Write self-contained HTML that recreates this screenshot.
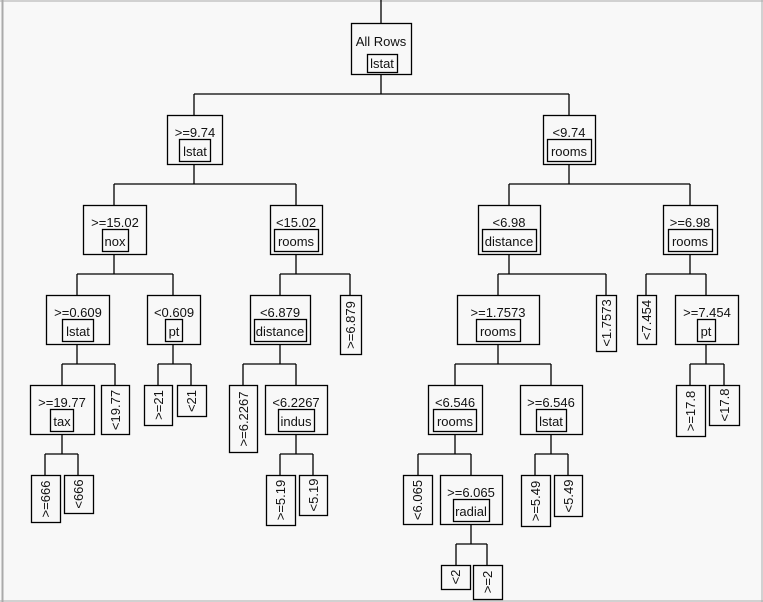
<!DOCTYPE html>
<html><head><meta charset="utf-8"><style>
html,body{margin:0;padding:0;background:#f8f8f8}
svg{display:block}
text{font-family:"Liberation Sans",sans-serif;font-size:13px;fill:#111}
rect{fill:none;stroke:#000;stroke-width:1.3}
line{stroke:#000;stroke-width:1.3}
</style></head><body>
<svg width="763" height="602" viewBox="0 0 763 602">
<rect x="0" y="0" width="763" height="602" style="fill:#f8f8f8;stroke:none"/>
<line x1="2.5" y1="0" x2="2.5" y2="602" style="stroke:#aaa;stroke-width:2"/>
<line x1="0" y1="1" x2="763" y2="1" style="stroke:#aaa;stroke-width:1"/>
<line x1="762" y1="0" x2="762" y2="602" style="stroke:#aaa;stroke-width:1"/>
<line x1="0" y1="601" x2="763" y2="601" style="stroke:#aaa;stroke-width:1"/>
<g id="lines">
<line x1="381" y1="0" x2="381" y2="23"/>
<line x1="381" y1="74" x2="381" y2="94"/><line x1="194" y1="94" x2="569" y2="94"/>
<line x1="194" y1="94" x2="194" y2="115"/><line x1="569" y1="94" x2="569" y2="115"/>
<!-- A -->
<line x1="194" y1="164" x2="194" y2="184"/><line x1="114" y1="184" x2="296" y2="184"/>
<line x1="114" y1="184" x2="114" y2="205"/><line x1="296" y1="184" x2="296" y2="205"/>
<!-- B -->
<line x1="569" y1="164" x2="569" y2="184"/><line x1="509" y1="184" x2="690" y2="184"/>
<line x1="509" y1="184" x2="509" y2="205"/><line x1="690" y1="184" x2="690" y2="205"/>
<!-- nox -->
<line x1="114" y1="254" x2="114" y2="274"/><line x1="77" y1="274" x2="173" y2="274"/>
<line x1="77" y1="274" x2="77" y2="295"/><line x1="173" y1="274" x2="173" y2="295"/>
<!-- rooms <15.02 -->
<line x1="296" y1="254" x2="296" y2="274"/><line x1="280" y1="274" x2="350" y2="274"/>
<line x1="280" y1="274" x2="280" y2="295"/><line x1="350" y1="274" x2="350" y2="295"/>
<!-- distance <6.98 -->
<line x1="509" y1="254" x2="509" y2="274"/><line x1="498" y1="274" x2="606" y2="274"/>
<line x1="498" y1="274" x2="498" y2="295"/><line x1="606" y1="274" x2="606" y2="295"/>
<!-- rooms >=6.98 -->
<line x1="690" y1="254" x2="690" y2="274"/><line x1="646" y1="274" x2="706" y2="274"/>
<line x1="646" y1="274" x2="646" y2="295"/><line x1="706" y1="274" x2="706" y2="295"/>
<!-- lstat >=0.609 -->
<line x1="77" y1="344" x2="77" y2="364"/><line x1="62" y1="364" x2="115" y2="364"/>
<line x1="62" y1="364" x2="62" y2="385"/><line x1="115" y1="364" x2="115" y2="385"/>
<!-- pt -->
<line x1="173" y1="344" x2="173" y2="364"/><line x1="158" y1="364" x2="191" y2="364"/>
<line x1="158" y1="364" x2="158" y2="385"/><line x1="191" y1="364" x2="191" y2="385"/>
<!-- distance <6.879 -->
<line x1="280" y1="344" x2="280" y2="364"/><line x1="243" y1="364" x2="296" y2="364"/>
<line x1="243" y1="364" x2="243" y2="385"/><line x1="296" y1="364" x2="296" y2="385"/>
<!-- rooms >=1.7573 -->
<line x1="498" y1="344" x2="498" y2="364"/><line x1="455" y1="364" x2="551" y2="364"/>
<line x1="455" y1="364" x2="455" y2="385"/><line x1="551" y1="364" x2="551" y2="385"/>
<!-- pt >=7.454 -->
<line x1="706" y1="344" x2="706" y2="364"/><line x1="690" y1="364" x2="724" y2="364"/>
<line x1="690" y1="364" x2="690" y2="385"/><line x1="724" y1="364" x2="724" y2="385"/>
<!-- tax -->
<line x1="62" y1="434" x2="62" y2="454"/><line x1="45" y1="454" x2="78" y2="454"/>
<line x1="45" y1="454" x2="45" y2="475"/><line x1="78" y1="454" x2="78" y2="475"/>
<!-- indus -->
<line x1="296" y1="434" x2="296" y2="454"/><line x1="280" y1="454" x2="313" y2="454"/>
<line x1="280" y1="454" x2="280" y2="475"/><line x1="313" y1="454" x2="313" y2="475"/>
<!-- rooms <6.546 -->
<line x1="455" y1="434" x2="455" y2="454"/><line x1="418" y1="454" x2="471" y2="454"/>
<line x1="418" y1="454" x2="418" y2="475"/><line x1="471" y1="454" x2="471" y2="475"/>
<!-- lstat >=6.546 -->
<line x1="551" y1="434" x2="551" y2="454"/><line x1="535" y1="454" x2="568" y2="454"/>
<line x1="535" y1="454" x2="535" y2="475"/><line x1="568" y1="454" x2="568" y2="475"/>
<!-- radial -->
<line x1="471" y1="524" x2="471" y2="544"/><line x1="456" y1="544" x2="487" y2="544"/>
<line x1="456" y1="544" x2="456" y2="565"/><line x1="487" y1="544" x2="487" y2="565"/>
</g>
<!-- Root -->
<rect x="351.5" y="23.5" width="60" height="51"/>
<text x="381" y="46" text-anchor="middle">All Rows</text>
<rect x="367.5" y="54.5" width="30" height="18"/>
<text x="382" y="68" text-anchor="middle">lstat</text>
<!-- decision nodes: x1,top,w, inner x,w -->
<g>
<rect x="167.5" y="115.5" width="55" height="49"/><text x="195" y="137" text-anchor="middle">&gt;=9.74</text>
<rect x="179.5" y="139.5" width="31" height="22"/><text x="195" y="156" text-anchor="middle">lstat</text>

<rect x="543.5" y="115.5" width="52" height="49"/><text x="569" y="137" text-anchor="middle">&lt;9.74</text>
<rect x="547.5" y="139.5" width="44" height="22"/><text x="569" y="156" text-anchor="middle">rooms</text>

<rect x="83.5" y="205.5" width="63" height="49"/><text x="115" y="227" text-anchor="middle">&gt;=15.02</text>
<rect x="102.5" y="229.5" width="26" height="22"/><text x="115" y="246" text-anchor="middle">nox</text>

<rect x="270.5" y="205.5" width="52" height="49"/><text x="296" y="227" text-anchor="middle">&lt;15.02</text>
<rect x="274.5" y="229.5" width="44" height="22"/><text x="296" y="246" text-anchor="middle">rooms</text>

<rect x="478.5" y="205.5" width="62" height="49"/><text x="509" y="227" text-anchor="middle">&lt;6.98</text>
<rect x="482.5" y="229.5" width="54" height="22"/><text x="509" y="246" text-anchor="middle">distance</text>

<rect x="663.5" y="205.5" width="54" height="49"/><text x="690" y="227" text-anchor="middle">&gt;=6.98</text>
<rect x="668.5" y="229.5" width="44" height="22"/><text x="690" y="246" text-anchor="middle">rooms</text>

<rect x="46.5" y="295.5" width="63" height="49"/><text x="78" y="317" text-anchor="middle">&gt;=0.609</text>
<rect x="62.5" y="319.5" width="31" height="22"/><text x="78" y="336" text-anchor="middle">lstat</text>

<rect x="147.5" y="295.5" width="53" height="49"/><text x="174" y="317" text-anchor="middle">&lt;0.609</text>
<rect x="165.5" y="319.5" width="17" height="22"/><text x="174" y="336" text-anchor="middle">pt</text>

<rect x="250.5" y="295.5" width="60" height="49"/><text x="280" y="317" text-anchor="middle">&lt;6.879</text>
<rect x="254.5" y="319.5" width="52" height="22"/><text x="280" y="336" text-anchor="middle">distance</text>

<rect x="457.5" y="295.5" width="82" height="49"/><text x="498" y="317" text-anchor="middle">&gt;=1.7573</text>
<rect x="476.5" y="319.5" width="44" height="22"/><text x="498" y="336" text-anchor="middle">rooms</text>

<rect x="675.5" y="295.5" width="63" height="49"/><text x="707" y="317" text-anchor="middle">&gt;=7.454</text>
<rect x="697.5" y="319.5" width="18" height="22"/><text x="706" y="336" text-anchor="middle">pt</text>

<rect x="30.5" y="385.5" width="64" height="49"/><text x="62" y="407" text-anchor="middle">&gt;=19.77</text>
<rect x="50.5" y="409.5" width="23" height="22"/><text x="62" y="426" text-anchor="middle">tax</text>

<rect x="265.5" y="385.5" width="62" height="49"/><text x="296" y="407" text-anchor="middle">&lt;6.2267</text>
<rect x="278.5" y="409.5" width="36" height="22"/><text x="296" y="426" text-anchor="middle">indus</text>

<rect x="428.5" y="385.5" width="54" height="49"/><text x="455" y="407" text-anchor="middle">&lt;6.546</text>
<rect x="433.5" y="409.5" width="43" height="22"/><text x="455" y="426" text-anchor="middle">rooms</text>

<rect x="520.5" y="385.5" width="62" height="49"/><text x="551" y="407" text-anchor="middle">&gt;=6.546</text>
<rect x="536.5" y="409.5" width="30" height="22"/><text x="551" y="426" text-anchor="middle">lstat</text>

<rect x="440.5" y="475.5" width="62" height="49"/><text x="471" y="497" text-anchor="middle">&gt;=6.065</text>
<rect x="453.5" y="499.5" width="36" height="22"/><text x="471" y="516" text-anchor="middle">radial</text>
</g>
<!-- leaves: rect + rotated text -->
<g>
<rect x="340.5" y="295.5" width="21" height="59"/><text transform="translate(355,325) rotate(-90)" text-anchor="middle">&gt;=6.879</text>
<rect x="596.5" y="295.5" width="20" height="56"/><text transform="translate(611,323) rotate(-90)" text-anchor="middle">&lt;1.7573</text>
<rect x="637.5" y="295.5" width="19" height="49"/><text transform="translate(651,320) rotate(-90)" text-anchor="middle">&lt;7.454</text>
<rect x="101.5" y="385.5" width="28" height="49"/><text transform="translate(120,410) rotate(-90)" text-anchor="middle">&lt;19.77</text>
<rect x="144.5" y="385.5" width="28" height="40"/><text transform="translate(163,405) rotate(-90)" text-anchor="middle">&gt;=21</text>
<rect x="177.5" y="385.5" width="29" height="31"/><text transform="translate(196,401) rotate(-90)" text-anchor="middle">&lt;21</text>
<rect x="229.5" y="385.5" width="28" height="67"/><text transform="translate(248,419) rotate(-90)" text-anchor="middle">&gt;=6.2267</text>
<rect x="676.5" y="385.5" width="29" height="51"/><text transform="translate(695,411) rotate(-90)" text-anchor="middle">&gt;=17.8</text>
<rect x="709.5" y="385.5" width="30" height="40"/><text transform="translate(729,405) rotate(-90)" text-anchor="middle">&lt;17.8</text>
<rect x="31.5" y="475.5" width="29" height="47"/><text transform="translate(50,499) rotate(-90)" text-anchor="middle">&gt;=666</text>
<rect x="64.5" y="475.5" width="29" height="38"/><text transform="translate(83,494) rotate(-90)" text-anchor="middle">&lt;666</text>
<rect x="266.5" y="475.5" width="29" height="50"/><text transform="translate(285,500) rotate(-90)" text-anchor="middle">&gt;=5.19</text>
<rect x="299.5" y="475.5" width="28" height="40"/><text transform="translate(318,495) rotate(-90)" text-anchor="middle">&lt;5.19</text>
<rect x="403.5" y="475.5" width="29" height="49"/><text transform="translate(422,500) rotate(-90)" text-anchor="middle">&lt;6.065</text>
<rect x="521.5" y="475.5" width="29" height="51"/><text transform="translate(540,501) rotate(-90)" text-anchor="middle">&gt;=5.49</text>
<rect x="554.5" y="475.5" width="28" height="41"/><text transform="translate(573,496) rotate(-90)" text-anchor="middle">&lt;5.49</text>
<rect x="441.5" y="565.5" width="29" height="24"/><text transform="translate(460,577) rotate(-90)" text-anchor="middle">&lt;2</text>
<rect x="473.5" y="565.5" width="29" height="34"/><text transform="translate(492,582) rotate(-90)" text-anchor="middle">&gt;=2</text>
</g>
</svg>
</body></html>
